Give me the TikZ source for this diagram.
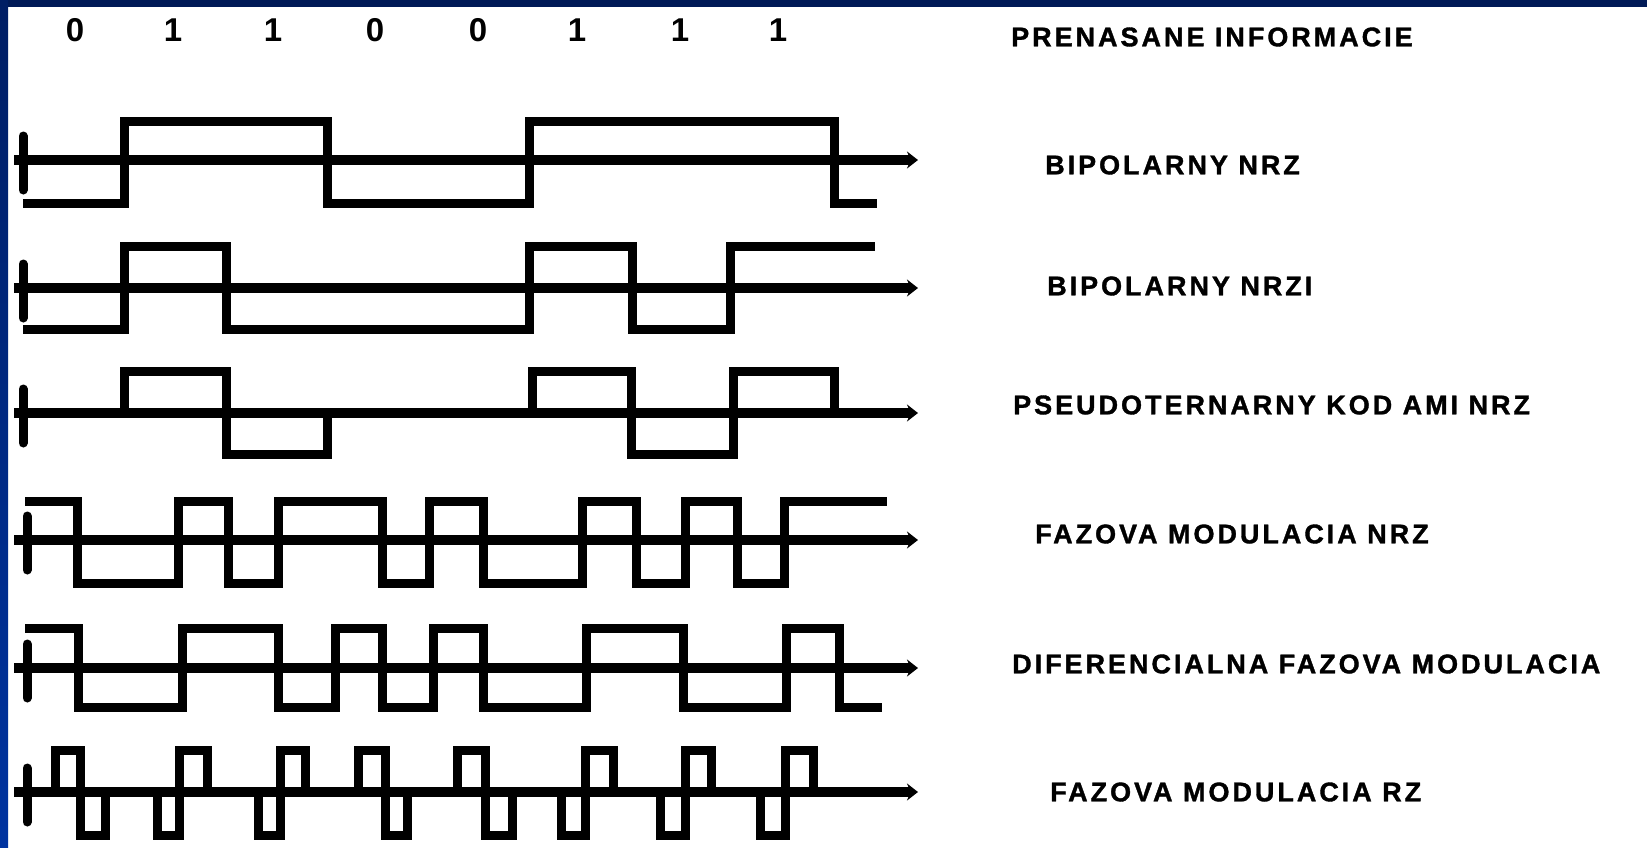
\documentclass[tikz,border=0pt]{standalone}
\usepackage{fontspec}
\setmainfont{Liberation Sans}
\newfontfamily\labfont{Liberation Sans}[LetterSpace=11,BoldFeatures={FakeBold=1.3}]
\usetikzlibrary{arrows.meta}
\definecolor{topnavy}{RGB}{0,26,87}
\definecolor{sidetop}{RGB}{0,30,100}
\definecolor{sidebot}{RGB}{0,51,160}
\begin{document}
\begin{tikzpicture}[x=1pt,y=-1pt,
  sig/.style={line width=9pt, line join=miter, line cap=butt},
  axisline/.style={line width=10pt, -{Stealth[length=11pt,width=17pt]}},
  tickbar/.style={line width=9pt, line cap=round},
  lab/.style={anchor=west, inner sep=0pt, font=\labfont\bfseries\fontsize{27pt}{27pt}\selectfont},
  digit/.style={inner sep=0pt, font=\bfseries\fontsize{33pt}{33pt}\selectfont}]
% background and frame
\fill[white] (0,0) rectangle (1647,847);
\fill[topnavy] (0,0) rectangle (1647,7);
\shade[top color=sidetop, bottom color=sidebot] (0,0) rectangle (8,847);
\useasboundingbox (0,0) rectangle (1647,847);

% bits
\foreach \x/\b [count=\i] in {75/0,173/1,273/1,375/0,478/0,577/1,680/1,778/1}
  \node[digit] (d\i) at (\x,30) {\b};

% labels
\node[lab] (l0) at (1011,37) {PRENASANE INFORMACIE};
\node[lab] (l1) at (1045,165) {BIPOLARNY NRZ};
\node[lab] (l2) at (1047,286) {BIPOLARNY NRZI};
\node[lab] (l3) at (1013,405) {PSEUDOTERNARNY KOD AMI NRZ};
\node[lab] (l4) at (1035,534) {FAZOVA MODULACIA NRZ};
\node[lab] (l5) at (1012,664) {DIFERENCIALNA FAZOVA MODULACIA};
\node[lab] (l6) at (1050,792) {FAZOVA MODULACIA RZ};

% axes and ticks
\foreach \y/\tx in {160/23,288/23,413/23,540/27,668/27,792/27}{
  \draw[axisline] (14,\y) -- (918,\y);
  \draw[tickbar] (\tx,\y-24) -- (\tx,\y+30);
}

% row 1: bipolar NRZ
\draw[sig] (23,203) -- (124,203) -- (124,121) -- (327,121) -- (327,203)
  -- (529,203) -- (529,121) -- (834,121) -- (834,203) -- (877,203);

% row 2: bipolar NRZI
\draw[sig] (23,329) -- (124,329) -- (124,246) -- (226,246) -- (226,329)
  -- (529,329) -- (529,246) -- (632,246) -- (632,329) -- (730,329)
  -- (730,246) -- (875,246);

% row 3: AMI
\draw[sig] (23,413) -- (124,413) -- (124,371) -- (226,371) -- (226,454)
  -- (327,454) -- (327,413) -- (532,413) -- (532,371) -- (631,371)
  -- (631,454) -- (733,454) -- (733,371) -- (834,371) -- (834,413);

% row 4: phase modulation NRZ
\draw[sig] (25,501) -- (77,501) -- (77,583) -- (178,583) -- (178,501)
  -- (228,501) -- (228,583) -- (278,583) -- (278,501) -- (382,501)
  -- (382,583) -- (429,583) -- (429,501) -- (483,501) -- (483,583)
  -- (582,583) -- (582,501) -- (636,501) -- (636,583) -- (685,583)
  -- (685,501) -- (737,501) -- (737,583) -- (784,583) -- (784,501)
  -- (887,501);

% row 5: differential phase modulation
\draw[sig] (25,628) -- (78,628) -- (78,707) -- (182,707) -- (182,628)
  -- (278,628) -- (278,707) -- (335,707) -- (335,628) -- (382,628)
  -- (382,707) -- (433,707) -- (433,628) -- (483,628) -- (483,707)
  -- (586,707) -- (586,628) -- (683,628) -- (683,707) -- (786,707)
  -- (786,628) -- (839,628) -- (839,707) -- (882,707);

% row 6: phase modulation RZ
\foreach \a/\m/\c/\p/\q in {55/80/105/750/835, 157/179/207/835/750,
    258/280/305/835/750, 358/385/407/750/835, 457/485/512/750/835,
    561/585/613/835/750, 660/685/711/835/750, 760/785/813/835/750}
  \draw[sig] (\a,792) -- (\a,\p) -- (\m,\p) -- (\m,\q) -- (\c,\q) -- (\c,792);
\end{tikzpicture}
\end{document}
